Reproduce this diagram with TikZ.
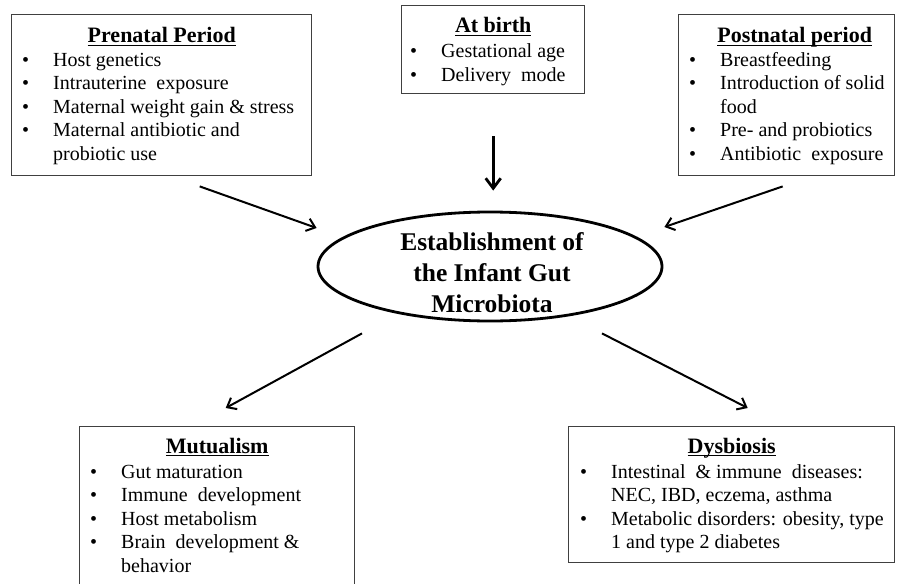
\documentclass[tikz,border=0pt]{standalone}
\usepackage{fontspec}
\setmainfont{Liberation Serif}
\usetikzlibrary{arrows.meta,positioning,shapes.geometric}
\newcommand{\factors}[1]{\begin{tabular}{@{}p{31pt}@{}l@{}}#1\end{tabular}}
\newcommand{\undertitle}[1]{\setbox0\hbox{#1}\rlap{\vrule width\wd0 height -1.8pt depth 3.2pt}\box0}
\tikzset{
  factorbox/.style={
    rectangle,
    draw=black!75,
    line width=1.4pt,
    inner sep=0pt,
    anchor=north west
  },
  boxtitle/.style={
    anchor=base,
    inner sep=0pt,
    font=\fontsize{22pt}{26pt}\selectfont\bfseries
  },
  factorlist/.style={
    anchor=north west,
    inner sep=0pt,
    font=\fontsize{20pt}{23.5pt}\selectfont
  },
  hub/.style={
    ellipse,
    draw=black,
    line width=2.8pt,
    minimum width=344pt,
    minimum height=109pt,
    inner sep=0pt
  },
  hubtext/.style={
    align=center,
    inner sep=0pt,
    font=\fontsize{25.5pt}{31pt}\selectfont\bfseries
  },
  arrow/.style={
    -{Straight Barb[length=8pt,width=13pt]},
    line width=2pt,
    draw=black
  },
  thickarrow/.style={
    arrow,
    -{Straight Barb[length=10pt,width=15pt]},
    line width=2.8pt
  }
}

\begin{document}
\begin{tikzpicture}[x=1pt,y=-1pt]
  \useasboundingbox (0,0) rectangle (901,583);

  % influences
  \node[factorbox, minimum width=300pt, minimum height=161pt] (pre) at (11,14) {};
  \node[boxtitle] (preH) at ([yshift=-29pt]pre.north) {\undertitle{Prenatal Period}};
  \node[factorlist] (preL) at ([xshift=11pt,yshift=-35.5pt]pre.north west) {\factors{
    \textbullet & Host genetics\\
    \textbullet & Intrauterine\ \ exposure\\
    \textbullet & Maternal weight gain \& stress\\
    \textbullet & Maternal antibiotic and\\
    & probiotic use}};

  \node[factorbox, minimum width=183pt, minimum height=88pt] (birth) at (401,5) {};
  \node[boxtitle] (birthH) at ([yshift=-28pt]birth.north) {\undertitle{At birth}};
  \node[factorlist] (birthL) at ([xshift=9pt,yshift=-36pt]birth.north west) {\factors{
    \textbullet & Gestational age\\
    \textbullet & Delivery\ \ mode}};

  \node[factorbox, minimum width=216pt, minimum height=161pt] (post) at (678,14) {};
  \node[boxtitle] (postH) at ([xshift=8pt,yshift=-29pt]post.north) {\undertitle{Postnatal period}};
  \node[factorlist] (postL) at ([xshift=11pt,yshift=-35.5pt]post.north west) {\factors{
    \textbullet & Breastfeeding\\
    \textbullet & Introduction of solid\\
    & food\\
    \textbullet & Pre- and probiotics\\
    \textbullet & Antibiotic\ \ exposure}};

  % centre
  \node[hub] (est) at (490,266.5) {};
  \node[hubtext] (estT) at ([xshift=2pt,yshift=-6pt]est.center) {Establishment of\\the Infant Gut\\Microbiota};

  % outcomes
  \node[factorbox, minimum width=275pt, minimum height=174pt] (mut) at (79,426) {};
  \node[boxtitle] (mutH) at ([yshift=-27pt]mut.north) {\undertitle{Mutualism}};
  \node[factorlist] (mutL) at ([xshift=11pt,yshift=-35.5pt]mut.north west) {\factors{
    \textbullet & Gut maturation\\
    \textbullet & Immune\ \ development\\
    \textbullet & Host metabolism\\
    \textbullet & Brain\ \ development \&\\
    & behavior}};

  \node[factorbox, minimum width=326pt, minimum height=136pt] (dys) at (568,426) {};
  \node[boxtitle] (dysH) at ([yshift=-27pt]dys.north) {\undertitle{Dysbiosis}};
  \node[factorlist] (dysL) at ([xshift=12pt,yshift=-35.5pt]dys.north west) {\factors{
    \textbullet & Intestinal\ \ \& immune\ \ diseases:\\
    & NEC, IBD, eczema, asthma\\
    \textbullet & Metabolic disorders: obesity, type\\
    & 1 and type 2 diabetes}};

  \draw[arrow] ([xshift=38pt,yshift=-10pt]pre.south) -- ([yshift=38.5pt]est.west);
  \draw[thickarrow] ([yshift=-42pt]birth.south) -- ([yshift=20pt]birth.south |- est.north);
  \draw[arrow] ([xshift=-4pt,yshift=-10pt]post.south) -- ([xshift=1pt,yshift=39.5pt]est.east);
  \draw[arrow] ([xshift=-128pt,yshift=-11pt]est.south) -- ([xshift=8.5pt,yshift=18pt]mut.north);
  \draw[arrow] ([xshift=112pt,yshift=-11pt]est.south) -- ([xshift=16pt,yshift=18pt]dys.north);
\end{tikzpicture}
\end{document}
